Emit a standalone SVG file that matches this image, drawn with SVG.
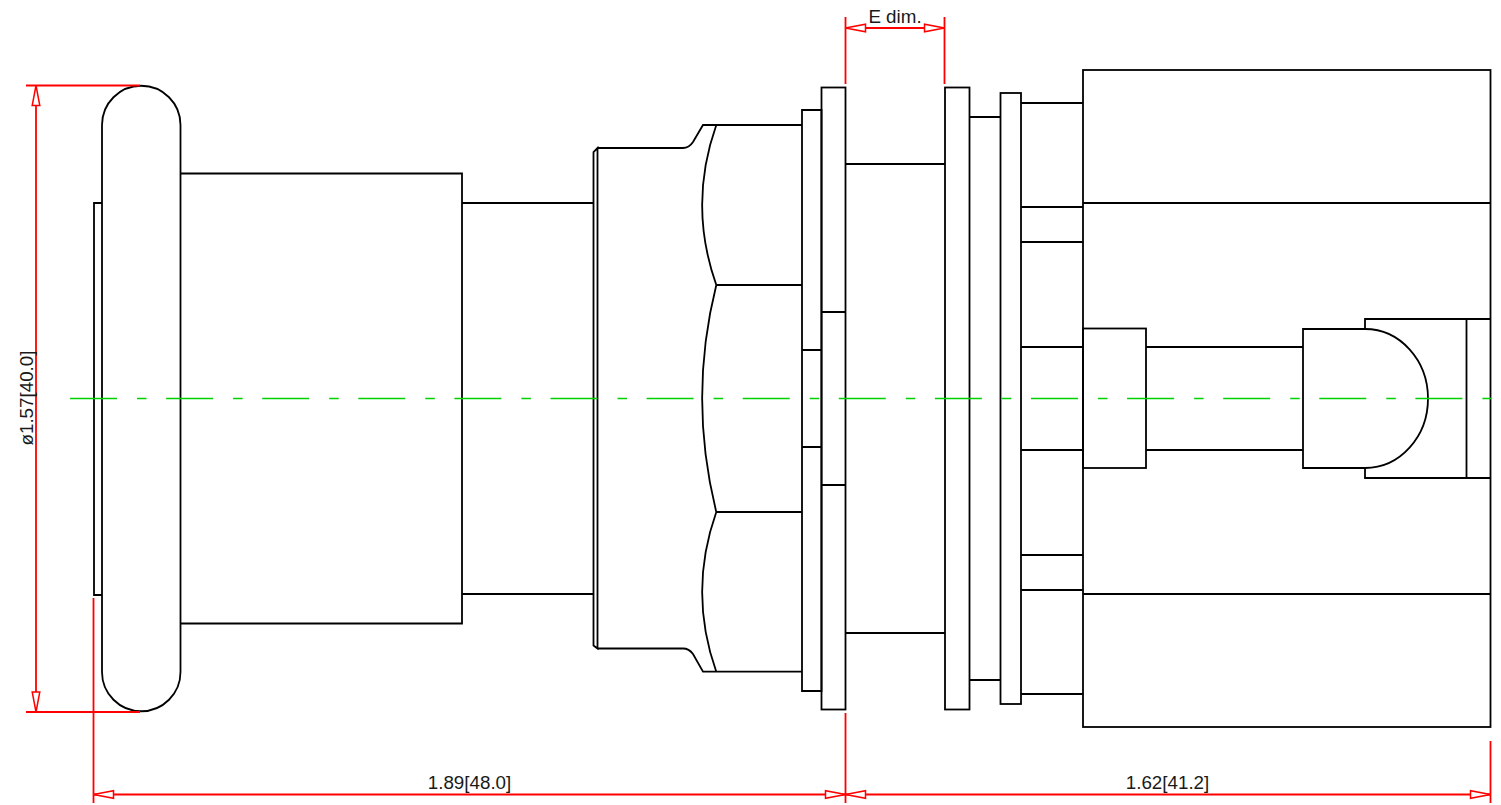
<svg xmlns="http://www.w3.org/2000/svg" width="1501" height="805" viewBox="0 0 1501 805">
<defs>
<marker id="arr" markerUnits="userSpaceOnUse" markerWidth="24" markerHeight="12" refX="21" refY="6" orient="auto-start-reverse" overflow="visible">
<path d="M21 6L1 2.2V9.8Z" fill="#fff" stroke="#f00" stroke-width="1.5"/>
</marker>
</defs>
<style>
.p{fill:none;stroke:#000;stroke-width:1.8}
.r{fill:none;stroke:#f00;stroke-width:1.8}
.c{fill:none;stroke:#00d000;stroke-width:1.3;stroke-dasharray:47 20 9.5 19.6}
text{font-family:"Liberation Sans",Arial,sans-serif;font-size:18.8px;fill:#1a1a1a;text-anchor:middle}
</style>
<rect width="1501" height="805" fill="#fff"/>
<g id="button-cap"><path class="p" d="M102 125A39.25 39.25 0 0 1 180.5 125V672A39.25 39.25 0 0 1 102 672Z"/></g>
<g id="front-plate"><path class="p" d="M102 203H94V595H102"/></g>
<g id="body"><path class="p" d="M180.5 173.5H462V623.5H180.5M462 203H594M462 594H594"/></g>
<g id="hex-nut"><path class="p" d="M597.5 648.5L593.5 645.5V152L597.5 148ZM597.5 148H683Q689 148 693 142L703 125H802M597.5 648.5H683Q689 648.5 693 654L703 671.7H802"/>
<path class="p" d="M716.3 125Q688 205 716.3 285Q688 398 716.3 512Q688 592 716.3 671.7M716.3 285H802M716.3 512H802"/></g>
<g id="washer-1"><path class="p" d="M802 110H821.5V691H802ZM802 350H821.5M802 447H821.5"/></g>
<g id="washer-2"><rect class="p" x="821.5" y="87.5" width="24" height="622"/><path class="p" d="M821.5 312H845.5M821.5 485H845.5"/></g>
<g id="neck"><path class="p" d="M845.5 164H945M845.5 633H945"/></g>
<g id="flange-1"><rect class="p" x="945" y="87.5" width="24.5" height="622"/></g>
<g id="spacer"><path class="p" d="M969.5 117H1000.5M969.5 680H1000.5"/></g>
<g id="flange-2"><rect class="p" x="1000.5" y="93" width="20.5" height="611"/></g>
<g id="contacts"><path class="p" d="M1021 103H1083M1021 207H1083M1021 242H1083M1021 347H1083M1021 450H1083M1021 555H1083M1021 590H1083M1021 694H1083"/></g>
<g id="housing"><rect class="p" x="1083" y="70" width="407.5" height="657"/><path class="p" d="M1083 203H1490.5M1083 594H1490.5"/></g>
<g id="collar"><rect class="p" x="1083" y="328.5" width="63" height="139.5"/></g>
<g id="stem"><path class="p" d="M1146 347H1303M1146 450H1303"/></g>
<g id="lamp-socket"><path class="p" d="M1365 329V319H1490.5M1365 468V478H1490.5M1466.5 319V478"/></g>
<g id="lamp"><path class="p" d="M1303 329H1365A63 69.5 0 0 1 1365 468H1303Z"/></g>
<g id="centerline"><path class="c" d="M70 398.5H1491"/></g>
<g id="connectors">
<path class="r" d="M26 85.5H140M26 712H140"/>
<path class="r" d="M36 85.5V712" marker-start="url(#arr)" marker-end="url(#arr)"/>
<path class="r" d="M93.5 598V803M845.5 713V803M1490.5 741V803M845.5 17V84M944.5 17V84"/>
<path class="r" d="M93.5 794.5H845.5" marker-start="url(#arr)" marker-end="url(#arr)"/>
<path class="r" d="M845.5 794.5H1490.5" marker-start="url(#arr)" marker-end="url(#arr)"/>
<path class="r" d="M845.5 28H944.5" marker-start="url(#arr)" marker-end="url(#arr)"/>
</g>
<g id="labels">
<text x="895" y="23">E dim.</text>
<text x="469.5" y="789">1.89[48.0]</text>
<text x="1167.5" y="789">1.62[41.2]</text>
<text transform="translate(33 398) rotate(-90)">ø1.57[40.0]</text>
</g>
</svg>
